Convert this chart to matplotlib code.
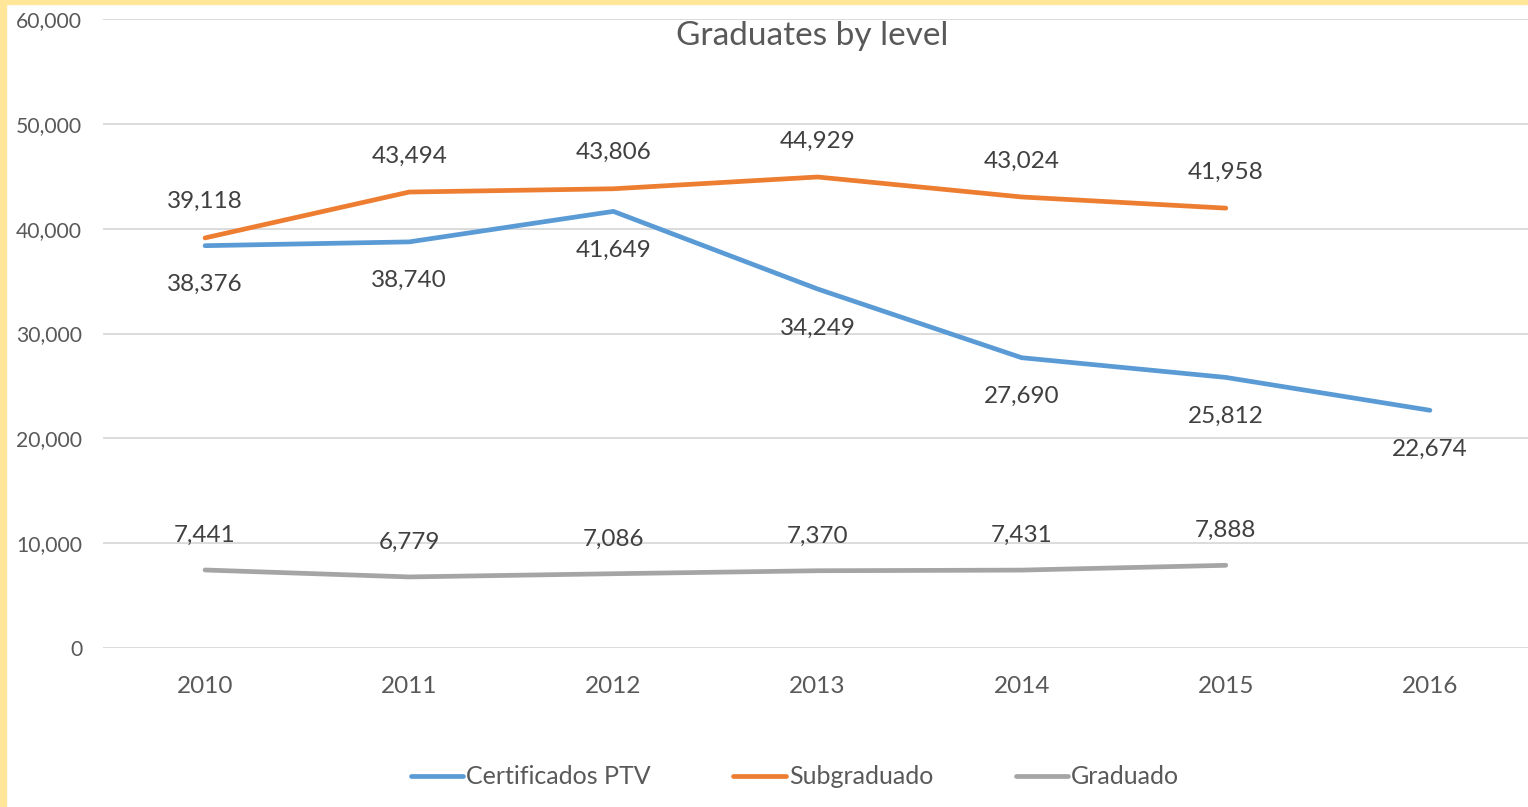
import matplotlib
matplotlib.use('Agg')
import matplotlib.pyplot as plt
from matplotlib.patches import Rectangle

years = ['2010', '2011', '2012', '2013', '2014', '2015', '2016']
certificados = [38376, 38740, 41649, 34249, 27690, 25812, 22674]
subgraduado = [39118, 43494, 43806, 44929, 43024, 41958]
graduado = [7441, 6779, 7086, 7370, 7431, 7888]

blue = '#5B9BD5'
orange = '#ED7D31'
gray = '#A5A5A5'
txt = '#595959'

plt.rcParams['font.family'] = ['Lato', 'DejaVu Sans']

W, H = 1528, 807
fig = plt.figure(figsize=(W / 100, H / 100), dpi=100)

# yellow frame on left and top
fig.patches.append(Rectangle((0, 0), 6 / W, 1, transform=fig.transFigure, color='#FFE699', zorder=0))
fig.patches.append(Rectangle((0, 1 - 4 / H), 1, 4 / H, transform=fig.transFigure, color='#FFE699', zorder=0))

ax = fig.add_axes([103 / W, (H - 648) / H, (1532 - 103) / W, (648 - 19) / H])
ax.set_xlim(-0.5, 6.5)
ax.set_ylim(0, 60000)
ax.set_yticks(range(0, 60001, 10000))
ax.yaxis.set_major_formatter(matplotlib.ticker.FuncFormatter(lambda v, p: f'{int(v):,}'))
ax.set_xticks(range(len(years)))
ax.set_xticklabels(years)
ax.grid(axis='y', color='#D9D9D9', linewidth=1.3)
ax.set_axisbelow(True)
for s in ax.spines.values():
    s.set_visible(False)
ax.tick_params(length=0, colors=txt, labelsize=15.2)
ax.tick_params(axis='y', pad=15)
ax.tick_params(axis='x', pad=20, labelsize=17.5)

x1 = list(range(len(certificados)))
x2 = list(range(len(subgraduado)))
x3 = list(range(len(graduado)))
ax.plot(x1, certificados, color=blue, linewidth=3.4, solid_capstyle='round', label='Certificados PTV')
ax.plot(x2, subgraduado, color=orange, linewidth=3.4, solid_capstyle='round', label='Subgraduado')
ax.plot(x3, graduado, color=gray, linewidth=3.4, solid_capstyle='round', label='Graduado')

for x, v in zip(x1, certificados):
    ax.annotate(f'{v:,}', (x, v), xytext=(0, -28), textcoords='offset points',
                ha='center', va='center', fontsize=17.5, color='#404040')
for x, v in zip(x2, subgraduado):
    ax.annotate(f'{v:,}', (x, v), xytext=(0, 26), textcoords='offset points',
                ha='center', va='center', fontsize=17.5, color='#404040')
for x, v in zip(x3, graduado):
    ax.annotate(f'{v:,}', (x, v), xytext=(0, 25), textcoords='offset points',
                ha='center', va='center', fontsize=17.5, color='#404040')

fig.text(812 / W, 1 - 36 / H, 'Graduates by level', ha='center', va='center', fontsize=24, color=txt)

fig.legend(loc='center', bbox_to_anchor=(795 / W, 1 - 777 / H), ncol=3, frameon=False,
           fontsize=18, labelcolor=txt, handlelength=2.1, handletextpad=0.12, columnspacing=3.3)

fig.savefig('out.png', dpi=100)
